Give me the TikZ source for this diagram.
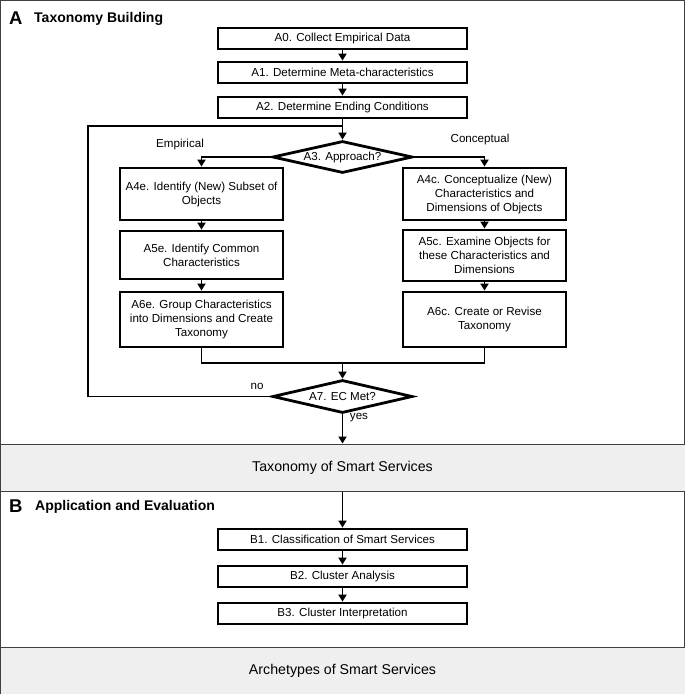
\documentclass[tikz,border=0pt]{standalone}
\usepackage{fontspec}
\setmainfont{Liberation Sans}
\usetikzlibrary{shapes.geometric,arrows.meta}
\definecolor{bandgray}{HTML}{EFEFEF}
\definecolor{framegray}{HTML}{404040}
\begin{document}
\begin{tikzpicture}[x=1pt,y=-1pt,
  stepbox/.style={draw,line width=2.8pt,align=center,inner sep=0pt,
    font=\fontsize{11.6}{14}\selectfont},
  widebox/.style={stepbox,minimum width=249pt,minimum height=21pt},
  colbox/.style={stepbox,minimum width=163pt},
  decision/.style={diamond,draw,line width=2.8pt,inner sep=0pt,minimum width=140pt,minimum height=32pt},
  conn/.style={line width=1.8pt},
  arr/.style={conn,-{Triangle[length=7pt,width=8pt]}},
  band/.style={draw=framegray,line width=1pt,fill=bandgray,minimum width=685pt,minimum height=47pt,
    inner sep=0pt,font=\fontsize{14.2}{16}\selectfont},
  lbl/.style={font=\fontsize{11.6}{13}\selectfont,inner sep=0pt},
  ttl/.style={font=\bfseries\fontsize{14}{16}\selectfont,inner sep=0pt,anchor=west},
  bigl/.style={font=\bfseries\fontsize{18.5}{20}\selectfont,inner sep=0pt,anchor=west}
]
\useasboundingbox (0,0) rectangle (685,694);
\draw[framegray,line width=1.2pt] (0.6,0.6) rectangle (684.4,693.4);

% bands
\node[band] (tax) at (342.5,467.5) {Taxonomy of Smart Services};
\node[band] (arch) at (342.5,670.5) {Archetypes of Smart Services};

% titles
\node[bigl] (tA) at (9,18) {A};
\node[ttl] (tAt) at (34,18.5) {Taxonomy Building};
\node[bigl] (tB) at (9,506) {B};
\node[ttl] (tBt) at (35,506.5) {Application and Evaluation};

% section A boxes
\node[widebox] (A0) at (342.5,38.5) {A0. Collect Empirical Data};
\node[widebox] (A1) at (342.5,72.5) {A1. Determine Meta-characteristics};
\node[widebox] (A2) at (342.5,107.5) {A2. Determine Ending Conditions};

\node[decision] (A3) at (342.5,157) {};
\node[lbl] (A3t) at (A3) {A3. Approach?};

\node[colbox,minimum height=52pt] (A4e) at (201.5,194) {A4e. Identify (New) Subset of\\Objects};
\node[colbox,minimum height=48pt] (A5e) at (201.5,255) {A5e. Identify Common\\Characteristics};
\node[colbox,minimum height=55pt] (A6e) at (201.5,319.5) {A6e. Group Characteristics\\into Dimensions and Create\\Taxonomy};

\node[colbox,minimum height=52pt] (A4c) at (484.5,194) {A4c. Conceptualize (New)\\Characteristics and\\Dimensions of Objects};
\node[colbox,minimum height=51pt] (A5c) at (484.5,255.5) {A5c. Examine Objects for\\these Characteristics and\\Dimensions};
\node[colbox,minimum height=55pt] (A6c) at (484.5,319.5) {A6c. Create or Revise\\Taxonomy};

\node[decision,minimum height=33pt] (A7) at (342.5,396.5) {};
\node[lbl] (A7t) at (A7) {A7. EC Met?};

% labels
\node[lbl] (lemp) at (180,144) {Empirical};
\node[lbl] (lcon) at (480,139) {Conceptual};
\node[lbl] (lno) at (257,386) {no};
\node[lbl] (lyes) at (359,418) {yes};

% section B boxes
\node[widebox] (B1) at (342.5,539.5) {B1. Classification of Smart Services};
\node[widebox] (B2) at (342.5,576.5) {B2. Cluster Analysis};
\node[widebox] (B3) at (342.5,613.5) {B3. Cluster Interpretation};

% helper coordinates
\coordinate (join) at (342.5,126);
\coordinate (loopL) at (88,126);
\coordinate (merge) at (342.5,363);

% connectors
\draw[arr] (A0) -- (A1);
\draw[arr] (A1) -- (A2);
\draw[arr] (A2) -- (A3);
\draw[conn] (A7.west) -| (loopL) -- (join);
\draw[arr] (A3.west) -| (A4e.north);
\draw[arr] (A3.east) -| (A4c.north);
\draw[arr] (A4e) -- (A5e);
\draw[arr] (A5e) -- (A6e);
\draw[arr] (A4c) -- (A5c);
\draw[arr] (A5c) -- (A6c);
\draw[conn] (A6e.south) |- (merge) -| (A6c.south);
\draw[arr] (merge) -- (A7.north);
\draw[arr] (A7.south) -- (tax.north);
\draw[arr] (tax.south) -- (B1.north);
\draw[arr] (B1) -- (B2);
\draw[arr] (B2) -- (B3);
\end{tikzpicture}
\end{document}
